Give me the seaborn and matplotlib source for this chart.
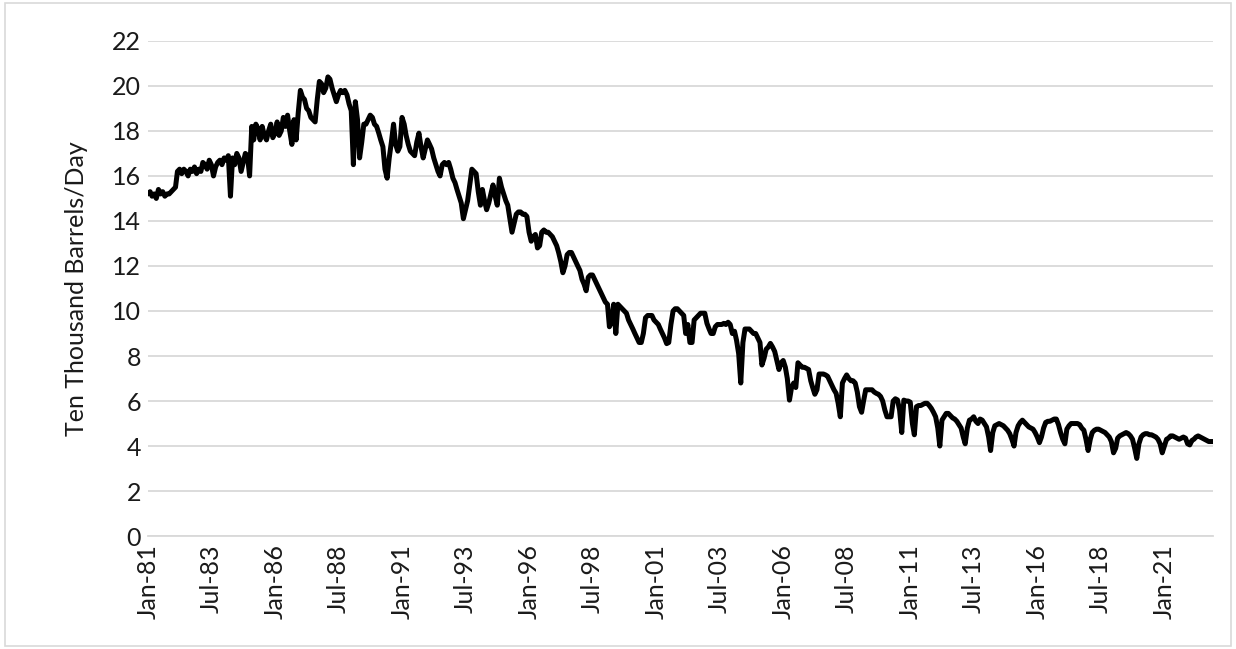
import matplotlib
matplotlib.use("Agg")
import matplotlib.pyplot as plt
import seaborn as sns
import pandas as pd
import numpy as np
from matplotlib.patches import Rectangle

# Monthly values (ten thousand barrels/day), one list per year
y1981 = [15.2, 15.3, 15.1, 15.2, 15.0, 15.4, 15.2, 15.3, 15.1, 15.2, 15.2, 15.3]
y1982 = [15.4, 15.5, 16.2, 16.3, 16.1, 16.3, 16.2, 16.0, 16.3, 16.2, 16.4, 16.1]
y1983 = [16.3, 16.2, 16.6, 16.5, 16.3, 16.7, 16.5, 16.0, 16.4, 16.6, 16.7, 16.5]
y1984 = [16.8, 16.7, 16.9, 15.1, 16.8, 16.5, 17.0, 16.8, 16.2, 16.6, 17.0, 16.9]
y1985 = [16.0, 18.2, 17.6, 18.3, 18.1, 17.6, 18.2, 17.8, 17.6, 18.0, 18.3, 17.7]
y1986 = [17.9, 18.4, 17.8, 18.0, 18.6, 18.2, 18.7, 18.0, 17.4, 18.5, 17.6, 18.8]
y1987 = [19.8, 19.5, 19.4, 19.0, 18.9, 18.6, 18.5, 18.4, 19.4, 20.2, 20.1, 19.7]
y1988 = [19.9, 20.4, 20.3, 19.9, 19.6, 19.3, 19.6, 19.8, 19.7, 19.8, 19.6, 19.2]
y1989 = [18.9, 16.5, 19.3, 18.5, 16.8, 17.5, 18.3, 18.3, 18.5, 18.7, 18.6, 18.3]
y1990 = [18.2, 17.9, 17.6, 17.3, 16.3, 15.9, 16.8, 17.5, 18.3, 17.4, 17.1, 17.3]
y1991 = [18.6, 18.3, 17.8, 17.4, 17.1, 17.0, 16.9, 17.5, 17.9, 17.3, 16.8, 17.2]
y1992 = [17.6, 17.4, 17.2, 16.8, 16.5, 16.2, 16.0, 16.5, 16.6, 16.5, 16.6, 16.3]
y1993 = [15.9, 15.7, 15.4, 15.1, 14.8, 14.1, 14.5, 14.9, 15.6, 16.3, 16.2, 16.1]
y1994 = [15.3, 14.7, 15.4, 14.9, 14.5, 14.8, 15.2, 15.6, 15.1, 14.7, 15.9, 15.5]
y1995 = [15.2, 14.9, 14.7, 14.1, 13.5, 13.9, 14.3, 14.4, 14.4, 14.3, 14.3, 14.2]
y1996 = [13.5, 13.1, 13.3, 13.4, 12.8, 12.9, 13.5, 13.6, 13.5, 13.5, 13.4, 13.3]
y1997 = [13.1, 12.9, 12.6, 12.2, 11.7, 12.0, 12.5, 12.6, 12.6, 12.4, 12.2, 12.0]
y1998 = [11.8, 11.4, 11.2, 10.9, 11.5, 11.6, 11.6, 11.4, 11.2, 11.0, 10.8, 10.6]
y1999 = [10.4, 10.3, 9.3, 9.5, 10.3, 9.0, 10.3, 10.2, 10.1, 10.0, 9.9, 9.6]
y2000 = [9.4, 9.2, 9.0, 8.8, 8.6, 8.6, 9.0, 9.7, 9.8, 9.8, 9.8, 9.6]
y2001 = [9.5, 9.4, 9.2, 9.0, 8.8, 8.55, 8.6, 9.4, 10.0, 10.1, 10.1, 10.0]
y2002 = [9.9, 9.8, 9.0, 9.4, 8.6, 8.6, 9.6, 9.7, 9.8, 9.9, 9.9, 9.9]
y2003 = [9.45, 9.2, 9.0, 9.0, 9.3, 9.4, 9.4, 9.4, 9.45, 9.4, 9.5, 9.4]
y2004 = [9.0, 9.1, 8.7, 8.1, 6.8, 8.6, 9.2, 9.2, 9.2, 9.1, 9.0, 9.0]
y2005 = [8.8, 8.6, 7.6, 7.9, 8.3, 8.4, 8.56, 8.4, 8.2, 7.8, 7.4, 7.7]
y2006 = [7.8, 7.5, 7.0, 6.04, 6.6, 6.8, 6.6, 7.7, 7.6, 7.5, 7.5, 7.45]
y2007 = [7.4, 6.9, 6.6, 6.3, 6.5, 7.2, 7.2, 7.2, 7.16, 7.1, 6.9, 6.7]
y2008 = [6.5, 6.34, 5.9, 5.3, 6.8, 7.0, 7.16, 7.0, 6.9, 6.9, 6.8, 6.4]
y2009 = [5.75, 5.5, 6.0, 6.5, 6.5, 6.5, 6.5, 6.4, 6.34, 6.3, 6.2, 6.0]
y2010 = [5.6, 5.3, 5.3, 5.3, 6.0, 6.1, 6.05, 5.6, 4.6, 6.04, 6.0, 6.0]
y2011 = [5.95, 5.0, 4.5, 5.75, 5.8, 5.8, 5.85, 5.9, 5.9, 5.8, 5.67, 5.5]
y2012 = [5.3, 4.8, 4.0, 5.15, 5.3, 5.45, 5.45, 5.35, 5.25, 5.2, 5.1, 4.95]
y2013 = [4.8, 4.4, 4.1, 4.8, 5.15, 5.2, 5.3, 5.1, 5.0, 5.2, 5.15, 5.0]
y2014 = [4.85, 4.4, 3.8, 4.6, 4.9, 4.95, 5.0, 4.95, 4.9, 4.8, 4.7, 4.55]
y2015 = [4.3, 4.0, 4.6, 4.9, 5.05, 5.15, 5.05, 4.95, 4.85, 4.8, 4.75, 4.6]
y2016 = [4.4, 4.15, 4.4, 4.8, 5.05, 5.1, 5.1, 5.15, 5.2, 5.2, 4.95, 4.6]
y2017 = [4.3, 4.1, 4.75, 4.9, 5.0, 5.0, 5.0, 5.0, 4.95, 4.8, 4.7, 4.3]
y2018 = [3.8, 4.3, 4.6, 4.7, 4.75, 4.75, 4.7, 4.65, 4.6, 4.5, 4.4, 4.2]
y2019 = [3.7, 3.9, 4.35, 4.45, 4.5, 4.55, 4.6, 4.55, 4.45, 4.3, 3.9, 3.45]
y2020 = [4.1, 4.4, 4.5, 4.55, 4.55, 4.5, 4.5, 4.45, 4.4, 4.3, 4.1, 3.7]
y2021 = [4.0, 4.3, 4.35, 4.45, 4.45, 4.4, 4.35, 4.3, 4.35, 4.4, 4.35, 4.1]
y2022 = [4.05, 4.25, 4.3, 4.4, 4.45, 4.4, 4.35, 4.3, 4.25, 4.2, 4.2, 4.2]

years = [y1981, y1982, y1983, y1984, y1985, y1986, y1987, y1988, y1989, y1990,
         y1991, y1992, y1993, y1994, y1995, y1996, y1997, y1998, y1999, y2000,
         y2001, y2002, y2003, y2004, y2005, y2006, y2007, y2008, y2009, y2010,
         y2011, y2012, y2013, y2014, y2015, y2016, y2017, y2018, y2019, y2020,
         y2021, y2022]
values = [v for yr in years for v in yr]
dates = pd.date_range("1981-01-01", periods=len(values), freq="MS")
df = pd.DataFrame({"date": dates, "value": values})

y_ticks = [0, 2, 4, 6, 8, 10, 12, 14, 16, 18, 20, 22]
tick_step = 30  # months between category labels

sns.set_theme(style="white")
plt.rcParams["font.family"] = ["Lato", "DejaVu Sans"]

fig = plt.figure(figsize=(12.36, 6.49), dpi=100)
ax = fig.add_axes([0.1197, 0.174, 0.8617, 0.763])

sns.lineplot(data=df, x="date", y="value", ax=ax, color="black", linewidth=3.6)

ax.set_ylim(0, 22)
ax.set_yticks(y_ticks)
ax.set_yticklabels([str(t) for t in y_ticks], fontsize=18, color="#1a1a1a")
ax.set_xlim(dates[0], dates[-1])
tick_dates = dates[::tick_step]
ax.set_xticks(tick_dates)
ax.set_xticklabels([d.strftime("%b-%y") for d in tick_dates], rotation=90,
                   fontsize=18, color="#1a1a1a")
ax.tick_params(axis="y", length=0, pad=5)
ax.tick_params(axis="x", length=0, pad=6)

ax.grid(axis="y", color="#d9d9d9", linewidth=1.3)
ax.grid(axis="x", visible=False)
for s in ["top", "right", "left"]:
    ax.spines[s].set_visible(False)
ax.spines["bottom"].set_color("#d9d9d9")
ax.spines["bottom"].set_linewidth(1.3)
ax.set_axisbelow(True)

ax.set_xlabel("")
ax.set_ylabel("Ten Thousand Barrels/Day", fontsize=18, color="#1a1a1a", labelpad=17)

fig.patches.append(Rectangle((0.004, 0.004), 0.992, 0.992, transform=fig.transFigure,
                             fill=False, edgecolor="#d9d9d9", linewidth=1.2))

fig.savefig("out.png", dpi=100, facecolor="white")
